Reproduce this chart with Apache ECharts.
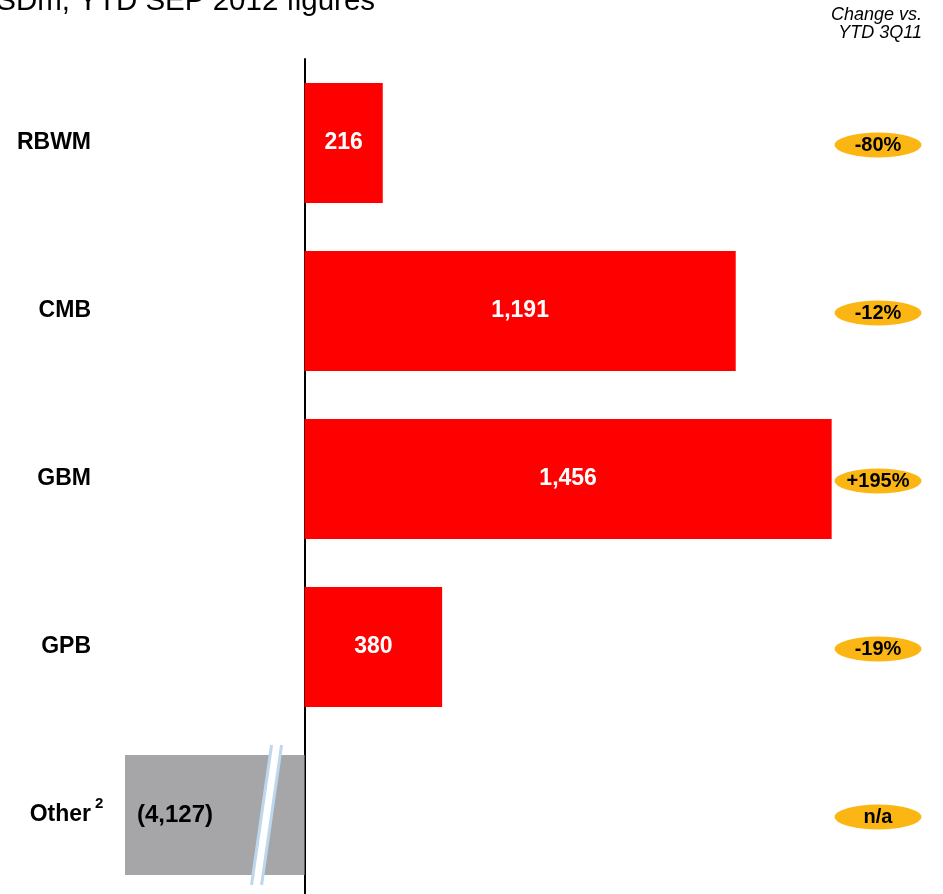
<!DOCTYPE html>
<html>
<head>
<meta charset="utf-8">
<script src="https://cdn.jsdelivr.net/npm/echarts@6/dist/echarts.min.js"></script>
<style>
  html, body { margin: 0; padding: 0; background: #fff; }
  #chart { width: 943px; height: 894px; }
</style>
</head>
<body>
<div id="chart"></div>
<script>
// Profit before tax by global business, USDm, YTD Sep 2012
const categories = ['RBWM', 'CMB', 'GBM', 'GPB', 'Other'];
const profits = [216, 1191, 1456, 380, -4127];
const changes = ['-80%', '-12%', '+195%', '-19%', 'n/a'];
// Span of the value axis that is collapsed so the large negative bar fits
const axisBreak = { start: -3756, end: -85, gap: 40 };
const axisMax = 1700;

const FONT = '"Liberation Sans", Arial, sans-serif';
const RED = '#FF0000';
const GREY = '#A6A6A9';
const AMBER = '#FCB614';
const GRID_LEFT = 125;
const LABEL_MARGIN = 34;

const fmt = v => Math.abs(v).toLocaleString('en-US');

const chart = echarts.init(document.getElementById('chart'), null, { renderer: 'canvas' });

const headerGraphics = [
  {
    id: 'title', type: 'text', x: -25, y: 2,
    style: { text: 'USDm, YTD SEP 2012 figures', font: '29.5px ' + FONT, fill: '#000', verticalAlign: 'middle', align: 'left' }
  },
  {
    id: 'changeHead1', type: 'text', x: 922, y: 15,
    style: { text: 'Change vs.', font: 'italic 18px ' + FONT, fill: '#000', align: 'right', verticalAlign: 'middle' }
  },
  {
    id: 'changeHead2', type: 'text', x: 922, y: 33,
    style: { text: 'YTD 3Q11', font: 'italic 18px ' + FONT, fill: '#000', align: 'right', verticalAlign: 'middle' }
  }
];

const option = {
  animation: false,
  backgroundColor: '#fff',
  grid: { left: GRID_LEFT, right: 23, top: 59, height: 840, containLabel: false, outerBoundsMode: 'none' },
  xAxis: {
    type: 'value',
    min: 'dataMin',
    max: axisMax,
    breaks: [axisBreak],
    breakArea: { show: false },
    axisLine: { show: false },
    axisTick: { show: false },
    axisLabel: { show: false },
    splitLine: { show: false }
  },
  yAxis: [
    {
      type: 'category',
      data: categories,
      inverse: true,
      axisLine: { show: true, onZero: true, lineStyle: { color: '#000', width: 2 } },
      axisTick: { show: false },
      axisLabel: { show: false }
    },
    {
      type: 'category',
      data: categories,
      inverse: true,
      position: 'left',
      axisLine: { show: false, onZero: false },
      axisTick: { show: false },
      axisLabel: {
        margin: LABEL_MARGIN,
        align: 'right',
        fontFamily: FONT, fontWeight: 'bold', fontSize: 23, color: '#000'
      }
    }
  ],
  series: [
    {
      type: 'bar',
      yAxisIndex: 0,
      barWidth: 120,
      data: profits.map(v => ({
        value: v,
        itemStyle: { color: v < 0 ? GREY : RED },
        label: v < 0
          ? { position: 'insideLeft', distance: 12, color: '#000', fontSize: 24 }
          : { position: 'inside', color: '#fff' }
      })),
      label: {
        show: true,
        fontFamily: FONT,
        fontWeight: 'bold',
        fontSize: 23,
        formatter: p => p.value < 0 ? '(' + fmt(p.value) + ')' : fmt(p.value)
      }
    },
    {
      // Year-on-year change badges in the right-hand column
      type: 'custom',
      yAxisIndex: 0,
      encode: { x: 0, y: 1 },
      data: categories.map(c => [0, c]),
      renderItem: (params, api) => {
        const cs = params.coordSys;
        const cy = api.coord([0, params.dataIndex])[1] + 2;
        const cx = cs.x + cs.width - 42;
        return {
          type: 'group',
          children: [
            {
              type: 'circle',
              x: cx, y: cy,
              scaleX: 43.5 / 12.5,
              shape: { cx: 0, cy: 0, r: 12.5 },
              style: { fill: AMBER }
            },
            {
              type: 'text',
              x: cx, y: cy,
              style: {
                text: changes[params.dataIndex],
                align: 'center', verticalAlign: 'middle',
                font: 'bold 20px ' + FONT, fill: '#000'
              }
            }
          ]
        };
      }
    }
  ],
  graphic: headerGraphics
};

chart.setOption(option);

// Slanted break marker drawn across the collapsed part of the "Other" bar
const bx0 = chart.convertToPixel({ xAxisIndex: 0 }, axisBreak.start);
const bx1 = chart.convertToPixel({ xAxisIndex: 0 }, axisBreak.end);
const bcx = (bx0 + bx1) / 2;
const bcy = chart.convertToPixel({ yAxisIndex: 0 }, 'Other');
const half = 70, slant = 10, w = 5;
const p = [
  [bcx + slant - w, bcy - half], [bcx + slant + w, bcy - half],
  [bcx - slant + w, bcy + half], [bcx - slant - w, bcy + half]
];
chart.setOption({
  graphic: headerGraphics.concat([
    // footnote marker after the "Other" category label
    {
      id: 'otherNote', type: 'text', x: GRID_LEFT - LABEL_MARGIN + 4, y: bcy - 11,
      style: { text: '2', font: 'bold 15px ' + FONT, fill: '#000', align: 'left', verticalAlign: 'middle' }
    },
    { id: 'breakFill', type: 'polygon', z: 100, shape: { points: p }, style: { fill: '#fff' } },
    { id: 'breakEdgeL', type: 'line', z: 101, shape: { x1: p[0][0], y1: p[0][1], x2: p[3][0], y2: p[3][1] }, style: { stroke: '#BDD7EE', lineWidth: 3 } },
    { id: 'breakEdgeR', type: 'line', z: 101, shape: { x1: p[1][0], y1: p[1][1], x2: p[2][0], y2: p[2][1] }, style: { stroke: '#BDD7EE', lineWidth: 3 } }
  ])
});
</script>
</body>
</html>
